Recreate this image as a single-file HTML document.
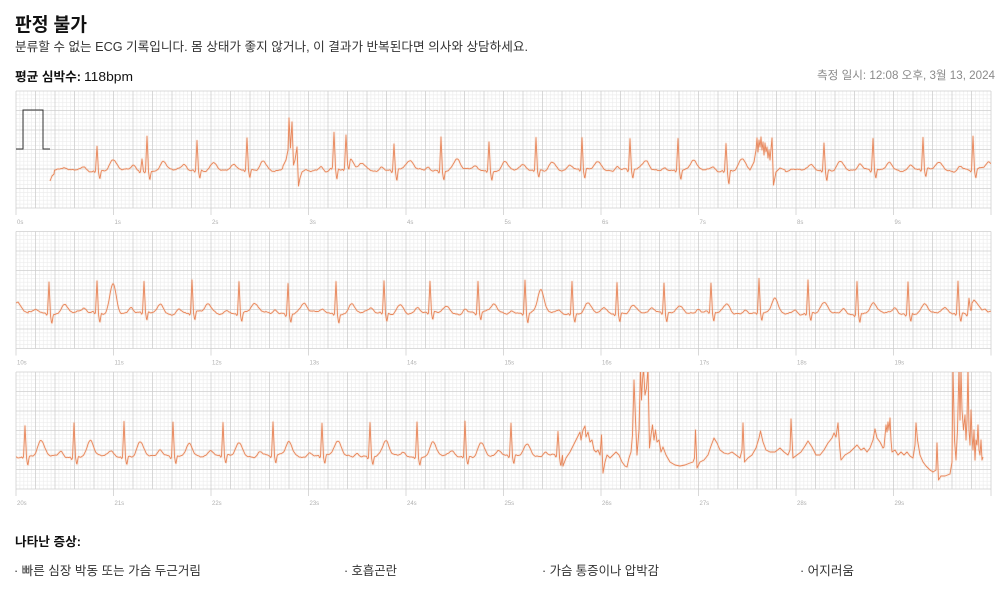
<!DOCTYPE html>
<html><head><meta charset="utf-8">
<style>
html,body{margin:0;padding:0;background:#fff;}
body{width:1003px;height:597px;overflow:hidden;position:relative;}
svg{position:absolute;left:0;top:0;}
.k{font-family:"Liberation Sans","Noto Sans CJK KR",sans-serif;}
</style></head>
<body>
<svg id="c" width="1003" height="597" viewBox="0 0 1003 597" xmlns="http://www.w3.org/2000/svg">
<g class="k">
<text x="15" y="31" font-size="19" font-weight="bold" fill="#111" textLength="72" lengthAdjust="spacingAndGlyphs">판정 불가</text>
<text x="15" y="51" font-size="12.5" fill="#333" textLength="513" lengthAdjust="spacingAndGlyphs">분류할 수 없는 ECG 기록입니다. 몸 상태가 좋지 않거나, 이 결과가 반복된다면 의사와 상담하세요.</text>
<text x="15" y="81" font-size="12.5" font-weight="bold" fill="#111" textLength="66" lengthAdjust="spacingAndGlyphs">평균 심박수:</text>
<text x="84" y="81" font-size="12.5" fill="#111" textLength="49" lengthAdjust="spacingAndGlyphs">118bpm</text>
<text x="817" y="79" font-size="11.5" fill="#8a8a8a" textLength="178" lengthAdjust="spacingAndGlyphs">측정 일시: 12:08 오후, 3월 13, 2024</text>
<text x="15" y="546" font-size="12.5" font-weight="bold" fill="#111" textLength="66" lengthAdjust="spacingAndGlyphs">나타난 증상:</text>
<text x="14" y="575" font-size="12.5" fill="#333" textLength="187" lengthAdjust="spacingAndGlyphs">· 빠른 심장 박동 또는 가슴 두근거림</text>
<text x="344" y="575" font-size="12.5" fill="#333" textLength="53" lengthAdjust="spacingAndGlyphs">· 호흡곤란</text>
<text x="542" y="575" font-size="12.5" fill="#333" textLength="117" lengthAdjust="spacingAndGlyphs">· 가슴 통증이나 압박감</text>
<text x="800" y="575" font-size="12.5" fill="#333" textLength="54" lengthAdjust="spacingAndGlyphs">· 어지러움</text>
</g>
<g id="charts"></g>
</svg>
<script>
(function(){
var X0=16,W=975,H=117,MIN=3.9,SEC=97.5;
var tops=[91,231.5,372];
var out='';
out+='<defs>';
for(var i=0;i<3;i++){out+='<clipPath id="cl'+i+'"><rect x="'+X0+'" y="'+tops[i]+'" width="'+W+'" height="'+H+'"/></clipPath>';}
out+='</defs>';
for(var i=0;i<3;i++){
  var t=tops[i];
  var minor='',major='';
  for(var k=0;k<=250;k++){var x=(X0+k*MIN).toFixed(2);
    if(k%5==0) major+='M'+x+' '+t+'V'+(t+H);
    else minor+='M'+x+' '+t+'V'+(t+H);}
  for(var k=0;k<=30;k++){var y=(t+k*MIN).toFixed(2);
    if(k%5==0) major+='M'+X0+' '+y+'H'+(X0+W);
    else minor+='M'+X0+' '+y+'H'+(X0+W);}
  out+='<path d="'+minor+'" stroke="#ededed" stroke-width="0.7" fill="none"/>';
  out+='<path d="'+major+'" stroke="#cfcfcf" stroke-width="0.8" fill="none"/>';
  var tk='';
  for(var s=0;s<10;s++){var x=X0+s*SEC; tk+='M'+x+' '+(t+H)+'V'+(t+H+7);
    out+='<text x="'+(x+1)+'" y="'+(t+H+16)+'" font-size="6" fill="#b0b0b0" font-family="Liberation Sans, sans-serif">'+(i*10+s)+'s</text>';}
  tk+='M'+(X0+W)+' '+(t+H)+'V'+(t+H+7);
  out+='<path d="'+tk+'" stroke="#cfcfcf" stroke-width="0.8" fill="none"/>';
}
function tmpl(x,base,beats,seed){
  var v=0;
  for(var j=0;j<beats.length;j++){var b=beats[j];var d=x-b[0]; if(d<-25||d>32) continue;
    var r=b[1],s=(b[2]===undefined?9:b[2]),tt=(b[3]===undefined?9:b[3]),p=(b[4]===undefined?4:b[4]);
    v+=p*Math.exp(-Math.pow((d+13)/3,2));
    v-=2*Math.exp(-Math.pow((d+2.3)/0.7,2));
    v+=r*Math.max(0,1-Math.abs(d)/1.5);
    v-=s*Math.max(0,1-Math.abs(d-2.8)/1.5);
    v+=tt*Math.exp(-Math.pow((d-16)/4.5,2));
  }
  var n=0.35*Math.sin(x*0.83+seed)+0.15*Math.sin(x*2.1+seed*2)+1.2*Math.sin(x*0.11+seed*3)+0.7*Math.sin(x*0.37+seed*5);
  return base-v+n;
}
function build(start,end,base,beats,customs,seed){
  var pts=[];var x=start;
  customs.sort(function(a,b){return a[0][0]-b[0][0];});
  for(var c=0;c<customs.length;c++){var cs=customs[c];
    for(;x<cs[0][0];x+=0.5) pts.push([x,tmpl(x,base,beats,seed)]);
    for(var q=0;q<cs.length;q++) pts.push(cs[q]);
    x=cs[cs.length-1][0]+0.5;}
  for(;x<=end;x+=0.5) pts.push([x,tmpl(x,base,beats,seed)]);
  var d='';
  for(var q=0;q<pts.length;q++){d+=(q?'L':'M')+pts[q][0].toFixed(1)+' '+pts[q][1].toFixed(1);}
  return d;
}
var b1=[[97,24,9,9],[142,12,0,0,0],[147,34,10,8],[197,30,9,8],[247,31,9,10],[334,34,12,9],[346,30,10,7],[394,27,12,9],[441,34,10,10],[489,28,10,8],[536,32,8,9],[582,32,10,10],[630,31,10,9],[678,31,10,8],[726,27,15,10],[824,27,12,10],[873,31,10,9],[923,32,9,9],[973,33,10,8]];
var c1=[
 [[50,181],[52,176],[54,174]],
 [[283,166],[286,160],[288,150],[289,118],[290.5,148],[292,122],[293.5,165],[295,160],[297,147],[298.5,186],[300,178],[302,172],[305,170]],
 [[750,170],[754,162],[756,150],[757,138],[758,152],[759,140],[760,147],[761,137],[762,150],[763,142],[764,155],[765,143],[766,152],[767,147],[768,158],[769,150],[770,160],[772,138],[773.5,185],[776,172],[780,168],[785,170]]
];
var d1=build(50,991,170,b1,c1,1.3);
var b2=[[49,32,9,9],[97,32,10,30],[144,30,10,9],[192,32,9,9],[239,32,9,9],[288,31,9,9],[336,32,9,9],[384,32,9,9],[430,31,9,8],[478,31,9,9],[525,33,10,22],[572,32,9,9],[617,31,9,9],[664,30,10,9],[711,29,10,9],[759,33,9,13],[808,33,9,9],[857,32,10,9],[908,32,9,9],[958,32,9,9],[969,14,3,4,0]];
var c2=[
 [[16,303],[18,302],[20,305],[24,311],[28,313]],
 [[972,303],[974,300],[976,302],[979,306],[982,310],[985,309],[988,312],[991,311]]
];
var d2=build(16,991,313,b2,c2,2.7);
var b3=[[25,30,10,14],[74,34,9,15],[124,35,9,15],[173,34,9,14],[223,33,9,15],[273,33,9,15],[322,33,9,15],[370,34,9,14],[417,34,9,13],[465,35,9,14],[511,33,9,14],[558,24,12,0]];
var c3=[[[563,466],[566,458],[570,452],[573,446],[576,440],[578,436],[580,432],[581,440],[583,430],[585,426],[586,437],[588,432],[590,442],[592,440],[594,450],[596,452],[598,450],[600,455],[601.5,435],[603,473],[605,462],[607,455],[610,458],[613,455],[616,452],[619,455],[622,462],[625,466],[627,467],[629,458],[631,452],[632.5,435],[634,380],[635.5,420],[637,455],[639,430],[640.5,368],[641.5,400],[642.5,380],[643.5,368],[645,395],[646.5,388],[648,368],[649.5,448],[651,435],[652.5,425],[654,440],[655.5,430],[657,442],[659,440],[661,452],[663,447],[666,455],[670,462],[675,465],[680,466],[685,465],[690,463],[693,462],[694.5,458],[695.5,430],[697,468],[700,462],[704,460],[708,455],[711,446],[714,438],[717,443],[720,450],[724,453],[728,454],[732,452],[736,455],[740,458],[742,450],[743,423],[744.5,462],[748,458],[752,455],[756,448],[759,438],[760.5,431],[763,442],[766,450],[770,452],[775,452],[780,448],[784,452],[788,455],[790,450],[791,419],[793,458],[797,455],[801,452],[805,446],[808,441],[812,447],[816,455],[820,455],[824,450],[828,443],[832,438],[834,433],[836,437],[838,423],[839.5,445],[841,460],[845,455],[850,452],[854,448],[857,445],[861,450],[864,448],[867,452],[870,448],[873,440],[875,429],[877,438],[880,442],[883,448],[884,447],[886,425],[887,432],[888,422],[889,430],[890,418],[891,440],[892,452],[895,450],[898,455],[901,452],[904,455],[907,452],[910,456],[913,458],[915,445],[916,423],[917.5,440],[920,455],[923,462],[926,466],[930,470],[933,472],[936,470],[937,443],[938.5,480],[941,476],[945,476],[950,474],[952,462],[953,368],[954.5,440],[956,460],[957.5,430],[959,368],[960,420],[961,368],[962,410],[963.5,430],[965,415],[966,440],[967,420],[968,368],[969,430],[970,445],[971,410],[972,435],[973,450],[974,430],[975,460],[976,440],[977,445],[978,425],[979,450],[980,455],[981,440],[982,460],[983,457]]];
var d3=build(16,983,456,b3,c3,4.1);
var ds=[d1,d2,d3];
for(var i=0;i<3;i++){
  out+='<g clip-path="url(#cl'+i+')"><path d="'+ds[i]+'" stroke="rgba(245,175,140,0.18)" stroke-width="2.6" fill="none" stroke-linejoin="round"/>';
  out+='<path d="'+ds[i]+'" stroke="#e8865a" stroke-width="0.9" fill="none" stroke-linejoin="round"/></g>';
}
out+='<path d="M16 149H23V110H43V149H50" stroke="#333" stroke-width="1" fill="none"/>';
document.getElementById('charts').innerHTML=out;
})();
</script>
</body></html>
